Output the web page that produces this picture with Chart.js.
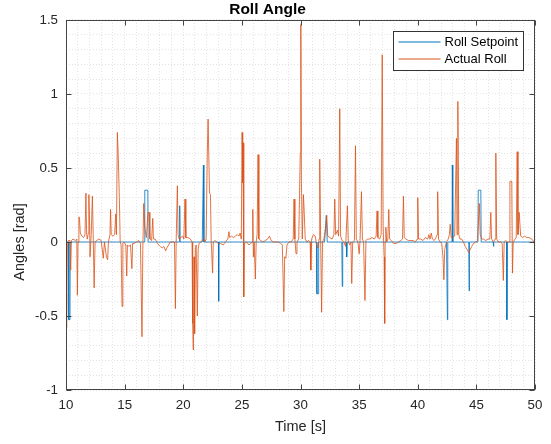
<!DOCTYPE html>
<html>
<head>
<meta charset="utf-8">
<title>Roll Angle</title>
<script src="https://cdn.jsdelivr.net/npm/chart.js@4/dist/chart.umd.min.js"></script>
<style>
  body { margin: 0; background: #fff; }
  #wrap { width: 551px; height: 444px; position: relative; }
</style>
</head>
<body>
<div id="wrap"><canvas id="chart"></canvas></div>
<script>
// Roll angle: setpoint vs actual

const xTicks = [10, 15, 20, 25, 30, 35, 40, 45, 50];
const yTicks = [-1, -0.5, 0, 0.5, 1, 1.5];

const timeSetpoint = [
    10.00, 10.22, 10.24, 10.34, 10.36,
    16.70, 16.72, 16.98, 17.00,
    19.68, 19.70, 19.73,
    21.62, 21.72, 21.76,
    23.00, 23.02, 23.05,
    31.36, 31.40, 31.52, 31.55,
    32.05, 32.20, 32.28,
    33.52, 33.56, 33.60,
    33.90, 33.94, 33.98,
    42.45, 42.53, 42.56,
    42.92, 42.95, 42.98, 43.00,
    44.35, 44.38, 44.41,
    45.13, 45.16, 45.38, 45.41,
    46.43, 46.46, 46.50,
    47.57, 47.60, 47.64,
    50.00
];
const rollSetpoint = [
    0, 0, -0.525, -0.525, 0,
    0, 0.35, 0.35, 0,
    0, 0.245, 0,
    0, 0.52, 0,
    0, -0.40, 0,
    0, -0.35, -0.35, 0,
    0, 0.18, 0,
    0, -0.30, 0,
    0, -0.10, 0,
    0, -0.525, 0,
    0, 0.52, 0.52, 0,
    0, -0.33, 0,
    0, 0.35, 0.35, 0,
    0, -0.03, 0,
    0, -0.525, 0,
    0
];

const timeActual = [
    10.00, 10.05, 10.12, 10.20, 10.33, 10.40, 10.46, 10.60, 10.80, 10.92,
    10.97, 11.03, 11.10, 11.15, 11.22, 11.35, 11.50, 11.62, 11.70, 11.76,
    11.82, 11.90, 11.95, 12.02, 12.05, 12.15, 12.25, 12.32, 12.40, 12.48,
    12.60, 12.80, 13.00, 13.18, 13.28, 13.45, 13.55, 13.62, 13.75, 13.80,
    13.86, 14.00, 14.15, 14.24, 14.30, 14.38, 14.45, 14.55, 14.62, 14.70,
    14.78, 14.85, 14.95, 15.10, 15.18, 15.24, 15.35, 15.50, 15.62, 15.68,
    15.80, 16.00, 16.20, 16.35, 16.48, 16.55, 16.63, 16.72, 16.85, 17.00,
    17.08, 17.15, 17.30, 17.40, 17.46, 17.60, 17.75, 17.90, 18.05, 18.20,
    18.35, 18.50, 18.60, 18.75, 18.90, 19.10, 19.25, 19.33, 19.40, 19.50,
    19.56, 19.65, 19.80, 19.95, 20.05, 20.15, 20.22, 20.40, 20.60, 20.75,
    20.80, 20.86, 20.92, 20.97, 21.03, 21.10, 21.20, 21.27, 21.35, 21.50,
    21.60, 21.75, 21.85, 21.95, 22.05, 22.12, 22.18, 22.24, 22.32, 22.38,
    22.50, 22.56, 22.70, 22.85, 23.00, 23.20, 23.40, 23.60, 23.80, 23.90,
    23.95, 24.10, 24.30, 24.45, 24.60, 24.75, 24.85, 24.95, 25.02, 25.07,
    25.10, 25.16, 25.22, 25.40, 25.60, 25.75, 25.88, 25.93, 25.98, 26.05,
    26.15, 26.22, 26.30, 26.38, 26.45, 26.60, 26.80, 27.00, 27.20, 27.35,
    27.50, 27.70, 27.90, 28.10, 28.30, 28.45, 28.58, 28.65, 28.75, 28.85,
    29.00, 29.20, 29.38, 29.45, 29.52, 29.62, 29.70, 29.85, 29.98, 30.03,
    30.08, 30.15, 30.25, 30.32, 30.40, 30.55, 30.70, 30.82, 30.88, 30.95,
    31.10, 31.25, 31.38, 31.50, 31.58, 31.64, 31.72, 31.80, 31.88, 32.00,
    32.15, 32.24, 32.32, 32.50, 32.70, 32.85, 32.92, 33.00, 33.15, 33.25,
    33.35, 33.42, 33.55, 33.70, 33.85, 34.00, 34.08, 34.20, 34.30, 34.37,
    34.45, 34.60, 34.69, 34.76, 34.90, 35.00, 35.08, 35.20, 35.28, 35.38,
    35.50, 35.58, 35.70, 35.90, 36.10, 36.30, 36.45, 36.53, 36.60, 36.75,
    36.88, 36.97, 37.05, 37.13, 37.18, 37.22, 37.28, 37.35, 37.45, 37.53,
    37.60, 37.75, 37.95, 38.15, 38.35, 38.55, 38.70, 38.78, 38.85, 39.00,
    39.20, 39.40, 39.60, 39.80, 39.95, 40.00, 40.07, 40.25, 40.45, 40.65,
    40.85, 40.95, 41.05, 41.15, 41.25, 41.40, 41.55, 41.65, 41.70, 41.77,
    41.90, 42.05, 42.15, 42.23, 42.30, 42.45, 42.60, 42.70, 42.77, 42.85,
    43.00, 43.15, 43.30, 43.35, 43.42, 43.50, 43.60, 43.75, 43.90, 44.05,
    44.20, 44.35, 44.48, 44.60, 44.75, 44.95, 45.10, 45.25, 45.33, 45.45,
    45.60, 45.80, 46.00, 46.15, 46.23, 46.30, 46.45, 46.60, 46.66, 46.73,
    46.90, 47.05, 47.20, 47.30, 47.37, 47.50, 47.65, 47.80, 47.86, 47.95,
    48.02, 48.08, 48.14, 48.30, 48.40, 48.48, 48.55, 48.65, 48.72, 48.78,
    48.95, 49.10, 49.30, 49.50, 49.70, 49.85, 50.00
];
const rollActual = [
    -0.35, -0.58, -0.02, 0.01, 0.01, -0.19, 0.01, 0.02, 0.01, 0.02,
    -0.36, 0.00, 0.17, 0.16, 0.06, 0.04, 0.03, 0.05, 0.33, 0.05,
    0.02, 0.06, 0.32, 0.10, -0.10, 0.05, 0.31, 0.05, -0.31, 0.00,
    0.01, 0.02, 0.01, -0.11, 0.00, -0.10, -0.12, 0.00, 0.05, 0.22,
    0.05, 0.04, 0.05, 0.19, 0.05, 0.74, 0.60, 0.30, 0.00, -0.02,
    -0.435, -0.01, 0.00, -0.02, -0.23, -0.02, -0.03, -0.02, -0.18, -0.01,
    -0.01, 0.00, 0.01, -0.01, -0.64, -0.05, 0.26, 0.10, 0.03, 0.20,
    0.20, 0.02, 0.01, 0.16, 0.02, 0.02, 0.00, -0.02, -0.03, -0.04,
    -0.03, -0.06, -0.04, -0.02, 0.00, 0.00, 0.00, -0.45, 0.02, 0.38,
    0.05, 0.02, 0.03, 0.04, 0.02, 0.29, 0.03, 0.03, 0.02, 0.00,
    -0.55, -0.73, -0.10, -0.62, -0.05, -0.02, -0.50, -0.05, -0.01, 0.00,
    0.01, 0.02, 0.00, 0.02, 0.60, 0.83, 0.83, 0.33, 0.32, 0.02,
    -0.21, 0.00, 0.01, 0.00, -0.01, -0.01, -0.02, 0.00, 0.02, 0.07,
    0.03, 0.04, 0.03, 0.04, 0.05, 0.04, 0.06, 0.02, 0.74, 0.40,
    0.67, -0.37, -0.01, 0.00, -0.02, -0.01, 0.00, 0.22, -0.10, 0.00,
    -0.25, 0.00, 0.05, 0.59, 0.02, 0.01, 0.00, 0.01, 0.02, 0.04,
    0.01, 0.00, 0.00, 0.00, -0.01, -0.02, -0.47, -0.10, -0.11, -0.02,
    0.00, 0.00, 0.02, 0.29, 0.02, -0.08, 0.00, 0.02, 0.60, 1.47,
    0.40, 0.02, 0.32, 0.20, 0.02, 0.00, 0.01, 0.00, -0.19, 0.02,
    0.05, 0.04, -0.02, -0.04, 0.02, 0.56, 0.00, -0.475, 0.00, 0.02,
    0.10, 0.18, 0.04, 0.03, 0.02, 0.05, 0.29, 0.05, 0.08, 0.04,
    0.90, 0.04, 0.01, 0.00, -0.03, 0.245, 0.00, -0.02, 0.00, -0.28,
    0.00, 0.01, 0.65, 0.02, 0.00, -0.08, 0.01, 0.34, 0.02, 0.00,
    -0.395, 0.01, 0.02, 0.02, 0.03, 0.02, 0.04, 0.21, 0.03, 0.02,
    0.05, 1.265, 0.10, -0.10, -0.55, 0.00, 0.10, 0.00, 0.02, 0.22,
    0.02, 0.01, -0.01, -0.01, 0.00, 0.01, 0.02, 0.31, 0.03, 0.02,
    0.01, 0.01, 0.01, 0.00, 0.02, 0.30, 0.02, 0.02, 0.01, 0.03,
    0.02, 0.05, 0.02, 0.06, 0.02, 0.01, 0.03, 0.05, 0.34, 0.02,
    0.00, -0.01, -0.10, -0.255, -0.05, 0.00, 0.02, 0.05, 0.12, 0.03,
    0.03, 0.04, 0.70, 0.05, 0.95, 0.05, 0.02, 0.02, 0.00, -0.03,
    -0.05, -0.07, -0.05, -0.03, -0.01, 0.00, 0.01, 0.26, 0.05, 0.02,
    0.02, 0.01, 0.02, 0.02, 0.20, 0.02, 0.00, 0.02, 0.60, 0.02,
    0.00, 0.00, -0.01, -0.26, 0.00, 0.01, 0.00, 0.00, 0.41, 0.41,
    0.41, -0.21, 0.00, 0.02, 0.03, 0.61, 0.05, 0.20, 0.20, 0.04,
    0.03, 0.04, 0.03, 0.03, 0.02, 0.01, -0.02
];

const FONT = '"Liberation Sans", Arial, Helvetica, sans-serif';

function toPoints(ts, vs){
    return ts.map((t, i) => ({x: t, y: vs[i]}));
}

// axes box with inward ticks, like matlab
const boxTicks = {
    id: 'boxTicks',
    afterDatasetsDraw(chart){
        const ctx = chart.ctx;
        const a = chart.chartArea;
        const xs = chart.scales.x, ys = chart.scales.y;
        const L = Math.round(a.left) + 0.5, R = Math.round(a.right) - 0.5;
        const T = Math.round(a.top) + 0.5, B = Math.round(a.bottom) - 0.5;
        ctx.save();
        ctx.strokeStyle = '#444';
        ctx.lineWidth = 1;
        ctx.strokeRect(L, T, R - L, B - T);
        ctx.beginPath();
        xTicks.forEach(v => {
            const px = Math.round(xs.getPixelForValue(v)) + 0.5;
            ctx.moveTo(px, B); ctx.lineTo(px, B - 5);
            ctx.moveTo(px, T); ctx.lineTo(px, T + 5);
        });
        yTicks.forEach(v => {
            const py = Math.round(ys.getPixelForValue(v)) + 0.5;
            ctx.moveTo(L, py); ctx.lineTo(L + 5, py);
            ctx.moveTo(R, py); ctx.lineTo(R - 5, py);
        });
        ctx.stroke();
        ctx.restore();
    }
};

// y label sits level with the zero line in the original
const yLabel = {
    id: 'yLabel',
    afterDraw(chart){
        const ctx = chart.ctx;
        const py = chart.scales.y.getPixelForValue(0);
        ctx.save();
        ctx.translate(20, py);
        ctx.rotate(-Math.PI / 2);
        ctx.fillStyle = '#262626';
        ctx.font = '14.5px ' + FONT;
        ctx.textAlign = 'center';
        ctx.textBaseline = 'middle';
        ctx.fillText('Angles [rad]', 0, 0);
        ctx.restore();
    }
};

// legend box in the upper right corner of the axes
const legendBox = {
    id: 'legendBox',
    afterDraw(chart){
        const ctx = chart.ctx;
        const a = chart.chartArea;
        const w = 130, h = 39;
        const x0 = Math.round(a.right - 12 - w) + 0.5;
        const y0 = Math.round(a.top + 11) + 0.5;
        ctx.save();
        ctx.fillStyle = '#fff';
        ctx.fillRect(x0, y0, w, h);
        ctx.strokeStyle = '#333';
        ctx.lineWidth = 1;
        ctx.strokeRect(x0, y0, w, h);
        chart.data.datasets.forEach((ds, i) => {
            const y = y0 + 10.5 + i * 17;
            ctx.strokeStyle = ds.borderColor;
            ctx.lineWidth = 1;
            ctx.beginPath();
            ctx.moveTo(x0 + 5, y);
            ctx.lineTo(x0 + 47, y);
            ctx.stroke();
            ctx.fillStyle = '#000';
            ctx.font = '13px ' + FONT;
            ctx.textBaseline = 'middle';
            ctx.textAlign = 'left';
            ctx.fillText(ds.label, x0 + 51, y + 0.5);
        });
        ctx.restore();
    }
};

const gridOpts = {
    color: 'rgba(0,0,0,0.11)',
    lineWidth: 1,
    drawTicks: false
};

new Chart(document.getElementById('chart'), {
    type: 'line',
    data: {
        datasets: [
            {
                label: 'Roll Setpoint',
                data: toPoints(timeSetpoint, rollSetpoint),
                borderColor: '#0072BD',
                borderWidth: 0.8,
                pointRadius: 0,
                tension: 0,
                order: 1
            },
            {
                label: 'Actual Roll',
                data: toPoints(timeActual, rollActual),
                borderColor: '#D95319',
                borderWidth: 0.8,
                pointRadius: 0,
                tension: 0,
                order: 0
            }
        ]
    },
    options: {
        responsive: true,
        maintainAspectRatio: false,
        animation: false,
        devicePixelRatio: 1,
        layout: { padding: { left: 0, right: 16, top: 0, bottom: 0 } },
        plugins: {
            legend: { display: false },
            tooltip: { enabled: false },
            title: {
                display: true,
                text: 'Roll Angle',
                color: '#000',
                font: { family: FONT, size: 15.5, weight: 'bold' },
                padding: { top: 0, bottom: 1.4 }
            }
        },
        scales: {
            x: {
                type: 'linear',
                min: 10,
                max: 50,
                grid: gridOpts,
                border: { display: false, dash: [1, 2] },
                ticks: {
                    stepSize: 1,
                    autoSkip: false,
                    maxRotation: 0,
                    padding: 7,
                    color: '#262626',
                    font: { family: FONT, size: 13.3 },
                    callback: v => (v % 5 === 0 ? String(v) : '')
                },
                title: {
                    display: true,
                    text: 'Time [s]',
                    color: '#262626',
                    font: { family: FONT, size: 14.5 },
                    padding: { top: 0, bottom: 8 }
                },
                afterFit: s => { s.height = 54; }
            },
            y: {
                type: 'linear',
                min: -1,
                max: 1.5,
                grid: gridOpts,
                border: { display: false, dash: [1, 2] },
                ticks: {
                    stepSize: 0.1,
                    autoSkip: false,
                    padding: 8,
                    color: '#262626',
                    font: { family: FONT, size: 13.3 },
                    callback: v => (Math.abs(v * 2 - Math.round(v * 2)) < 1e-9 ? String(Math.round(v * 2) / 2) : '')
                },
                afterFit: s => { s.width = 66; }
            }
        }
    },
    plugins: [boxTicks, yLabel, legendBox]
});
</script>
</body>
</html>
